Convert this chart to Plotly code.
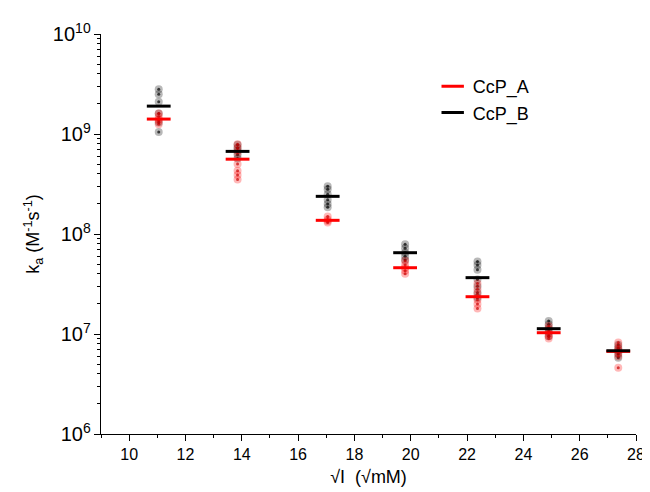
import plotly.graph_objects as go

# sqrt of ionic strength (sqrt mM)
sqrt_I = [11.05, 13.85, 17.05, 19.8, 22.37, 24.9, 27.37]

# replicate association rate constants, M^-1 s^-1
ka_A = [
    [1.6e9, 1.5e9, 1.4e9, 1.35e9, 1.25e9],
    [7.9e8, 7.2e8, 6.5e8, 5.0e8, 4.3e8, 3.9e8, 3.5e8],
    [1.5e8, 1.4e8, 1.35e8, 1.3e8],
    [5.4e7, 4.9e7, 4.6e7, 4.3e7, 4.0e7],
    [3.2e7, 2.8e7, 2.5e7, 2.2e7, 2.0e7, 1.8e7],
    [1.2e7, 1.1e7, 1.0e7, 9.5e6, 9.0e6],
    [8.2e6, 7.5e6, 7.0e6, 6.5e6, 6.0e6, 4.6e6],
]
ka_B = [
    [2.8e9, 2.5e9, 2.1e9, 1.6e9, 1.3e9, 1.05e9],
    [7.8e8, 7.3e8, 6.8e8, 6.2e8, 5.7e8],
    [3.0e8, 2.8e8, 2.5e8, 2.2e8, 2.0e8, 1.85e8],
    [7.9e7, 7.2e7, 6.5e7, 6.0e7, 5.5e7],
    [5.3e7, 4.9e7, 4.4e7, 3.5e7, 3.0e7, 2.6e7, 2.3e7],
    [1.35e7, 1.25e7, 1.15e7, 1.05e7, 9.5e6],
    [7.8e6, 7.2e6, 6.8e6, 6.3e6, 5.8e6],
]

# mean values shown as horizontal dashes
mean_A = [1.41e9, 5.6e8, 1.37e8, 4.6e7, 2.36e7, 1.03e7, 6.7e6]
mean_B = [1.9e9, 6.7e8, 2.38e8, 6.5e7, 3.66e7, 1.13e7, 6.8e6]

series = [
    ("CcP_A", ka_A, mean_A, "#ff0000", "rgba(255,0,0,0.28)", "rgba(200,0,0,0.7)"),
    ("CcP_B", ka_B, mean_B, "#000000", "rgba(0,0,0,0.28)", "rgba(0,0,0,0.7)"),
]


def flatten(xs, groups):
    fx, fy = [], []
    for x, g in zip(xs, groups):
        for v in g:
            fx.append(x)
            fy.append(v)
    return fx, fy


fig = go.Figure()

# translucent replicate markers (B first so A sits on top)
for name, vals, means, col, faint, dot in reversed(series):
    fx, fy = flatten(sqrt_I, vals)
    fig.add_trace(go.Scatter(x=fx, y=fy, mode="markers", showlegend=False,
                             marker=dict(size=8, color=faint, line_width=0)))
    fig.add_trace(go.Scatter(x=fx, y=fy, mode="markers", showlegend=False,
                             marker=dict(size=3, color=dot, line_width=0)))

# mean dashes
for name, vals, means, col, faint, dot in series:
    fig.add_trace(go.Scatter(x=sqrt_I, y=means, mode="markers", name=name,
                             marker=dict(symbol="line-ew", size=17,
                                         line=dict(color=col, width=3))))

fig.update_layout(
    width=650, height=492,
    margin=dict(l=93, r=22, t=26, b=66),
    plot_bgcolor="white", paper_bgcolor="white",
    font=dict(family="Liberation Sans, Arial, sans-serif", size=16, color="#000"),
    showlegend=True,
    legend=dict(x=0.62, y=0.915, xanchor="left", yanchor="top",
                font=dict(size=18), bgcolor="rgba(0,0,0,0)",
                itemwidth=30, tracegroupgap=0),
)

fig.update_xaxes(
    range=[9, 28], dtick=2, tick0=10,
    showline=True, linecolor="black", linewidth=1.2,
    ticks="outside", ticklen=6, tickcolor="black",
    minor=dict(ticks="outside", ticklen=3, dtick=1, tick0=9, tickcolor="black"),
    showgrid=False, zeroline=False,
    title=dict(text="\u221aI  (\u221amM)", font=dict(size=18), standoff=8),
)
fig.update_yaxes(
    type="log", range=[6, 10], dtick=1, exponentformat="power",
    showline=True, linecolor="black", linewidth=1.2,
    ticks="outside", ticklen=6, tickcolor="black",
    minor=dict(ticks="outside", ticklen=3, dtick="D1", tickcolor="black"),
    showgrid=False, zeroline=False,
    title=dict(text="k<sub>a</sub> (M<sup>-1</sup>s<sup>-1</sup>)",
               font=dict(size=18), standoff=8),
)

fig.write_html("out.html")
